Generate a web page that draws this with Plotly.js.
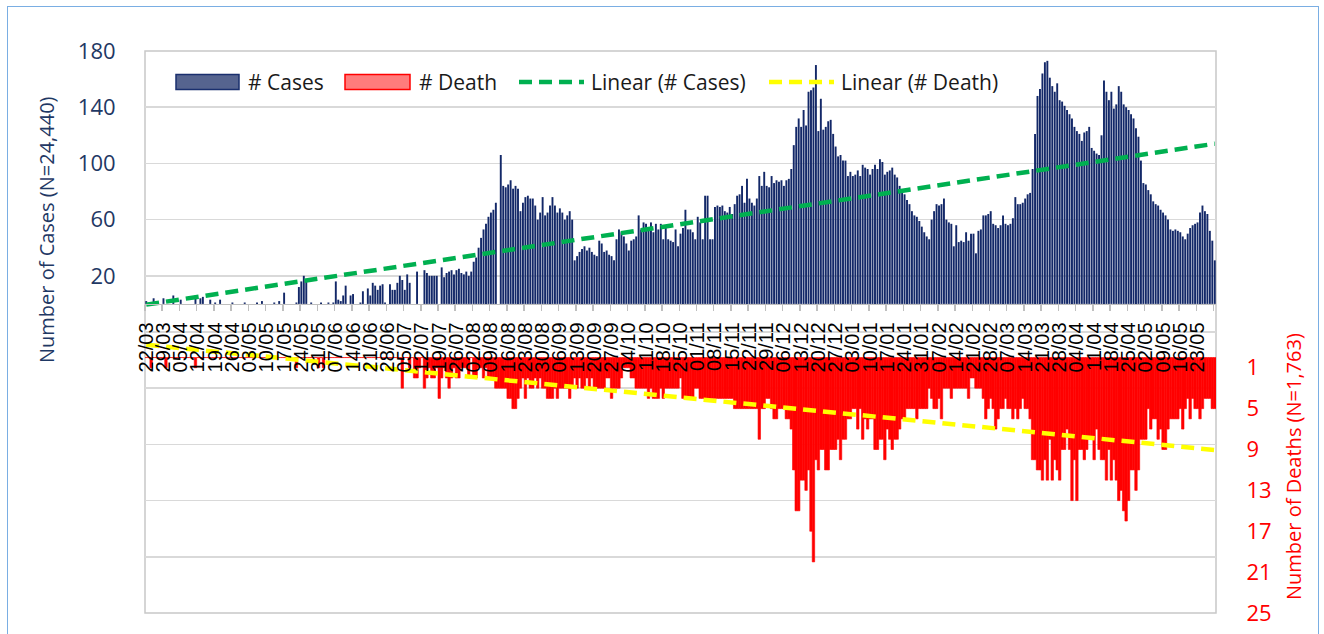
<!DOCTYPE html>
<html>
<head>
<meta charset="utf-8">
<script src="https://cdn.plot.ly/plotly-3.0.1.min.js"></script>
<style>
html,body{margin:0;padding:0;background:#fff;overflow:hidden;}
#chart{width:1324px;height:634px;position:absolute;left:0;top:0;}
#frame{position:absolute;left:7px;top:6px;width:1310px;height:700px;border:1.5px solid #7aaee3;pointer-events:none;}
</style>
</head>
<body>
<div id="chart"></div>
<div id="frame"></div>
<script>
// Weekly tick labels (every 7th day, starting 22/03/2020)
const tickLabels = ['22/03','29/03','05/04','12/04','19/04','26/04','03/05','10/05','17/05','24/05','31/05','07/06','14/06','21/06','28/06','05/07','12/07','19/07','26/07','02/08','09/08','16/08','23/08','30/08','06/09','13/09','20/09','27/09','04/10','11/10','18/10','25/10','01/11','08/11','15/11','22/11','29/11','06/12','13/12','20/12','27/12','03/01','10/01','17/01','24/01','31/01','07/02','14/02','21/02','28/02','07/03','14/03','21/03','28/03','04/04','11/04','18/04','25/04','02/05','09/05','16/05','23/05'];

// Daily number of cases (22/03/2020 ... 30/05/2021)
const cases = [
2,0,0,4,0,0,0,4,0,0,
0,6,0,0,3,0,0,0,0,0,
6,0,4,5,0,0,3,0,1,0,
3,0,0,0,0,1,0,0,0,0,
1,0,0,0,0,1,0,2,0,0,
0,0,1,0,2,0,8,0,0,0,
0,1,12,16,20,16,0,1,0,0,
0,1,0,0,1,0,1,16,3,2,
6,13,0,6,7,0,0,1,9,0,
11,6,15,13,10,13,14,1,0,14,
10,10,15,20,17,10,21,15,0,0,
23,0,0,24,22,20,20,20,20,0,
26,19,22,23,24,21,24,25,22,21,
23,20,23,30,33,40,47,53,57,62,
65,67,72,0,106,84,83,85,88,82,
84,82,66,72,76,77,75,75,70,60,
65,76,63,65,70,76,70,65,68,65,
60,63,66,60,31,34,37,39,41,38,
40,37,35,34,45,43,37,38,35,34,
31,46,53,51,48,43,38,45,46,48,
63,53,58,57,54,58,51,57,53,57,
46,55,46,45,44,53,41,50,54,67,
53,53,51,46,62,58,46,77,77,46,
46,69,70,69,70,66,65,69,64,71,
77,78,84,72,89,75,72,70,75,91,
84,94,84,83,91,86,88,87,88,84,
88,89,96,113,126,132,126,138,127,151,
152,154,170,123,146,124,126,130,131,121,
112,105,106,102,102,91,94,91,92,95,
91,99,97,96,92,96,99,96,103,101,
92,94,95,97,92,90,84,80,78,74,
71,66,63,62,59,55,51,48,46,60,
66,71,70,71,75,60,58,57,41,56,
44,45,44,51,45,50,50,36,52,53,
63,63,64,66,57,56,54,56,63,57,
56,57,61,76,71,71,72,75,78,79,
96,121,148,153,164,172,173,161,155,151,
157,145,144,141,138,135,132,126,123,121,
116,122,123,126,111,109,107,106,120,159,
151,145,151,139,142,155,151,142,140,138,
135,132,125,119,102,86,85,81,78,73,
71,70,67,65,63,60,53,52,53,52,
51,48,46,50,54,56,57,58,65,70,
66,64,52,45,31
];

// Daily number of deaths
const deaths = [
0,0,1,0,0,0,0,0,1,0,
0,0,0,0,0,0,0,0,0,0,
1,0,0,0,0,0,0,0,0,0,
0,0,0,0,0,0,0,0,0,0,
0,0,0,0,0,0,0,0,0,0,
0,0,0,0,0,0,0,0,0,0,
0,1,0,0,0,0,0,0,0,0,
1,0,1,0,0,0,0,0,0,0,
0,0,0,0,0,0,0,0,0,0,
0,0,0,0,0,0,0,0,0,0,
0,0,0,0,3,0,0,1,0,2,
2,1,0,3,2,1,2,2,1,4,
2,1,2,3,2,1,2,2,1,1,
1,2,0,2,2,1,1,2,1,2,
2,2,3,3,3,3,3,4,4,5,
5,4,3,2,4,2,3,3,2,3,
2,3,3,4,4,4,3,4,3,3,
3,3,4,3,2,3,2,3,3,2,
3,2,3,3,3,3,3,2,2,4,
3,3,3,2,1,1,1,2,2,3,
3,3,3,3,4,3,4,4,4,3,
4,3,3,3,3,3,3,2,4,4,
4,4,4,3,3,4,4,4,4,4,
4,4,4,4,4,4,4,4,4,5,
5,5,5,5,5,5,5,5,5,8,
5,5,4,4,5,6,6,5,5,5,
6,6,7,11,15,15,12,12,13,11,
17,20,10,11,9,9,11,11,9,9,
9,8,10,8,8,6,6,5,5,7,
5,8,6,7,6,6,9,9,8,8,
10,7,8,9,8,8,7,6,6,5,
5,5,5,6,5,5,5,5,3,4,
5,5,4,6,3,3,3,4,3,3,
3,3,3,3,4,2,2,3,3,3,
4,6,5,4,5,7,6,5,5,4,
5,5,6,5,6,5,4,5,5,6,
10,10,11,11,12,10,12,8,12,10,
11,12,9,9,7,9,14,10,14,9,
9,10,9,8,8,10,7,9,10,10,
12,9,12,10,12,14,13,15,16,14,
11,11,13,11,8,8,8,5,7,6,
6,8,7,9,9,7,6,6,6,6,
5,7,5,4,6,4,5,5,6,5,
4,4,4,5,5
];

// Linear trend lines (values at first and last day)
const casesTrend = [-0.5, 114];
const deathsTrend = [-1.25, 9.05];

// Axis tick values
const caseTicks = [-220,-180,-140,-100,-60,-20,20,60,100,140,180];
const deathTicks = [1,5,9,13,17,21,25];

const n = cases.length;
const days = cases.map((_, i) => i);
const trendX = [0, n - 1];
const labelVals = tickLabels.map((_, k) => 7 * k);
const boundaryVals = [];
for (let k = 0; k <= Math.ceil(n / 7); k++) boundaryVals.push(7 * k - 0.5);

const L = 145, R = 1216, T = 51, B = 613;
const px = x => (x - L) / (R - L);
const py = y => (B - y) / (B - T);

const navy = '#1f3864';
const font = 'Open Sans, Noto Sans, sans-serif';

const traces = [
  {type:'bar', name:'# Cases', x:days, y:cases, width:0.78, yaxis:'y',
   marker:{color:'#132868', line:{width:0}}, hoverinfo:'x+y'},
  {type:'bar', name:'# Death', x:days, y:deaths, width:1, yaxis:'y2',
   marker:{color:'#ff0000', line:{width:0.6, color:'#ff0000'}}, hoverinfo:'x+y'},
  {type:'scatter', mode:'lines', name:'Linear (# Cases)', x:trendX, y:casesTrend, yaxis:'y',
   line:{color:'#00b050', width:4.5, dash:'13px,7px'}},
  {type:'scatter', mode:'lines', name:'Linear (# Death)', x:trendX, y:deathsTrend, yaxis:'y2',
   line:{color:'#ffff00', width:4.5, dash:'13px,7px'}}
];

const legendItems = [
  {kind:'rect', x0:176, x1:239, fill:'#56648f', line:'#1a2f6e', label:'# Cases', tx:246},
  {kind:'rect', x0:345, x1:410, fill:'#ff7c7c', line:'#ff0000', label:'# Death', tx:417},
  {kind:'line', x0:519, x1:584, color:'#00b050', label:'Linear (# Cases)', tx:589},
  {kind:'line', x0:769, x1:834, color:'#ffff00', label:'Linear (# Death)', tx:839}
];
const legY = 82;

const shapes = [
  {type:'rect', xref:'paper', yref:'paper', x0:0, x1:1, y0:0, y1:1,
   line:{color:'#c8c8c8', width:1.5}, layer:'below'}
];
const annotations = [
  {xref:'paper', yref:'paper', x:px(46), y:py(230), text:'Number of Cases (N=24,440)',
   textangle:-90, showarrow:false, xanchor:'center', yanchor:'middle',
   font:{family:font, size:20, color:navy}},
  {xref:'paper', yref:'paper', x:px(1293), y:py(467), text:'Number of Deaths (N=1,763)',
   textangle:-90, showarrow:false, xanchor:'center', yanchor:'middle',
   font:{family:font, size:20, color:'#ff0000'}}
];
legendItems.forEach(it => {
  if (it.kind === 'rect') {
    shapes.push({type:'rect', xref:'paper', yref:'paper', x0:px(it.x0), x1:px(it.x1),
      y0:py(legY + 7.5), y1:py(legY - 7.5), fillcolor:it.fill, line:{color:it.line, width:1.5}, layer:'above'});
  } else {
    shapes.push({type:'line', xref:'paper', yref:'paper', x0:px(it.x0), x1:px(it.x1),
      y0:py(legY), y1:py(legY), line:{color:it.color, width:4.5, dash:'13px,7px'}, layer:'above'});
  }
  annotations.push({xref:'paper', yref:'paper', x:px(it.tx), y:py(legY), text:it.label,
    showarrow:false, xanchor:'left', yanchor:'middle',
    font:{family:font, size:21, color:'#1a1a1a'}});
});

const layout = {
  width:1324, height:634,
  margin:{l:L, r:1324 - R, t:T, b:634 - B, pad:0},
  paper_bgcolor:'#ffffff', plot_bgcolor:'#ffffff',
  barmode:'overlay', showlegend:false,
  xaxis:{
    range:[-0.5, n - 0.5], tickmode:'array', tickvals:labelVals, ticktext:tickLabels,
    tickangle:-90, tickfont:{family:'Liberation Sans, Arial, sans-serif', size:20, color:'#000000'},
    ticks:'outside', ticklen:9, tickcolor:'rgba(0,0,0,0)',
    minor:{tickmode:'array', tickvals:boundaryVals, ticks:'outside', ticklen:6, tickwidth:1.5, tickcolor:'#bfbfbf', showgrid:false},
    showgrid:false, zeroline:false, showline:true, linecolor:'#bfbfbf', linewidth:1.5,
    anchor:'free', position:220/400, fixedrange:true
  },
  yaxis:{
    range:[-220, 180], tickmode:'array', tickvals:caseTicks,
    ticktext:caseTicks.map(v => v > 0 ? String(v) : ''),
    showgrid:true, gridcolor:'#d9d9d9', gridwidth:1.5, zeroline:false, showline:false,
    ticks:'outside', ticklen:24, tickcolor:'rgba(0,0,0,0)',
    tickfont:{family:font, size:22, color:navy}, fixedrange:true
  },
  yaxis2:{
    overlaying:'y', side:'right', range:[25, -30], tickmode:'array', tickvals:deathTicks,
    showgrid:false, zeroline:false, showline:false,
    ticks:'outside', ticklen:25, tickcolor:'rgba(0,0,0,0)',
    tickfont:{family:font, size:22, color:'#ff0000'}, fixedrange:true
  },
  shapes:shapes, annotations:annotations
};

Plotly.newPlot('chart', traces, layout, {displayModeBar:false, staticPlot:true});
</script>
</body>
</html>
